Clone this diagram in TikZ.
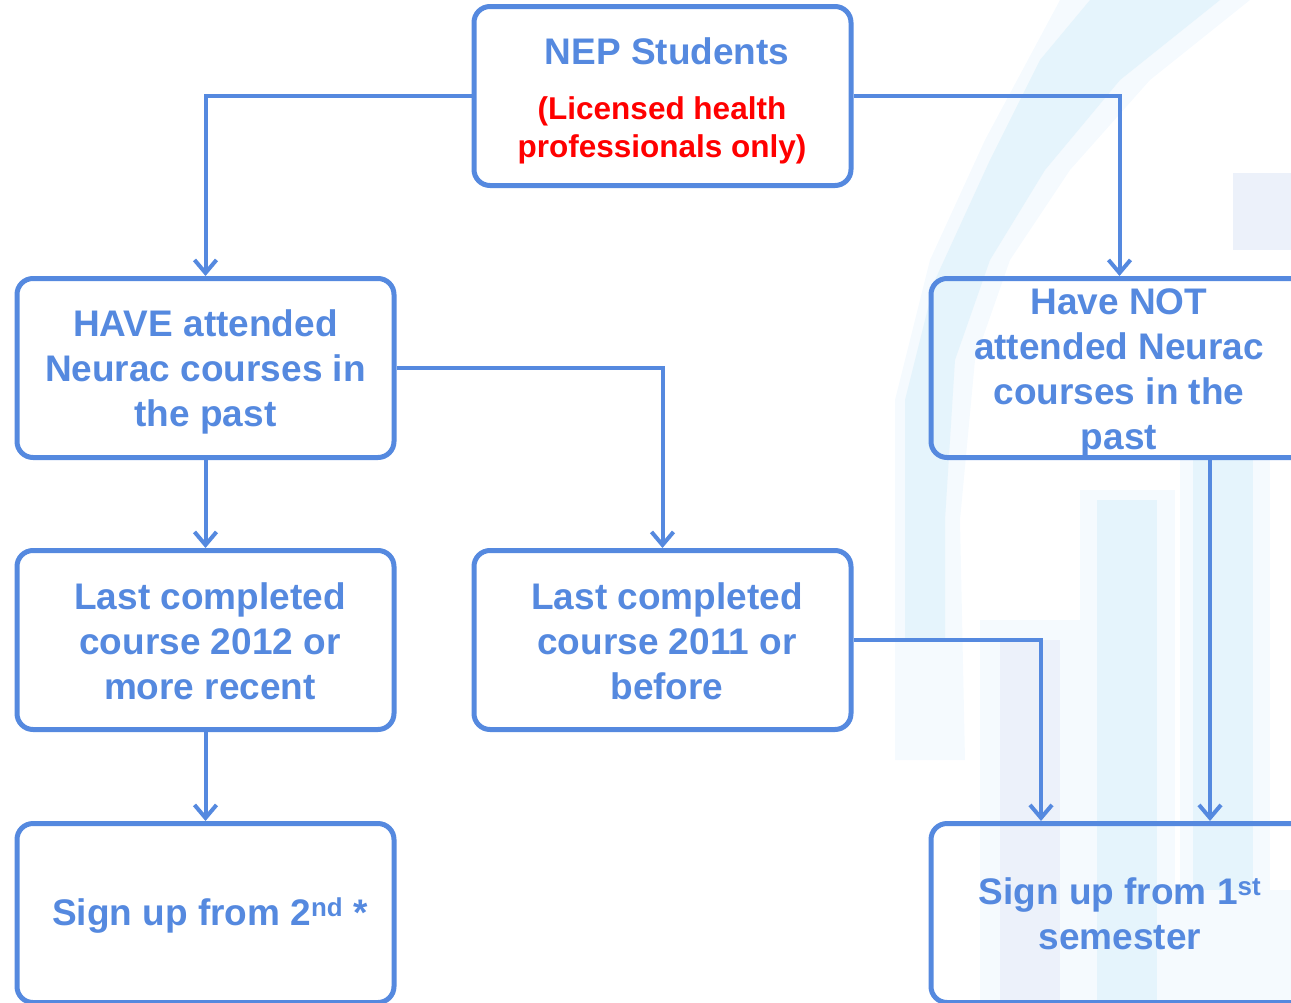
\documentclass[tikz,border=0pt]{standalone}
\usepackage{fontspec}
\setmainfont{Liberation Sans}
\usetikzlibrary{arrows.meta}
\definecolor{fc}{RGB}{85,137,223}
\definecolor{bgA}{RGB}{229,244,252}
\definecolor{bgB}{RGB}{236,241,250}
\definecolor{bgC}{RGB}{245,250,254}
\begin{document}
\begin{tikzpicture}[x=1pt,y=-1pt,
  box/.style={draw=fc, line width=5pt, rounded corners=16pt, minimum width=377pt, minimum height=179pt, inner sep=0pt},
  txt/.style={text=fc, align=center, font=\bfseries\fontsize{37}{45}\selectfont, inner sep=0pt},
  redtxt/.style={text=red, align=center, font=\bfseries\fontsize{31.5}{38}\selectfont, inner sep=0pt},
  conn/.style={draw=fc, line width=4pt, -{Straight Barb[length=13pt,width=22pt,line width=4pt]}}]
\useasboundingbox (0,0) rectangle (1291,1002);
\clip (0,0) rectangle (1291,1002);
% faint background pattern
\fill[bgC] (1060,0) -- (1250,0) -- (1150,80) -- (1070,170) -- (1010,260) -- (975,360) -- (960,520) -- (965,760) -- (895,760) -- (895,400) -- (930,260) -- (985,140) -- cycle;
\fill[bgA] (1090,0) -- (1220,0) -- (1120,80) -- (1045,170) -- (990,260) -- (955,360) -- (945,520) -- (945,640) -- (905,640) -- (905,400) -- (935,280) -- (990,160) -- (1040,60) -- cycle;
\fill[bgC] (1080,490) rectangle (1175,1002);
\fill[bgA] (1097,500) rectangle (1157,1002);
\fill[bgC] (1180,460) rectangle (1270,1002);
\fill[bgA] (1193,460) rectangle (1253,1002);
\fill[bgC] (980,620) rectangle (1080,1002);
\fill[bgB] (1000,640) rectangle (1060,1002);
\fill[bgB] (1233,173) rectangle (1291,250);
\fill[bgC] (1160,890) rectangle (1291,1002);
% boxes
\node[box] (top) at (662.5,96) {};
\node[txt] (topt) at (667,51) {NEP Students};
\node[redtxt] (topr) at (662,130) {(Licensed health\\professionals only)};
\node[box] (have) at (205.5,368) {};
\node[txt] (havet) at (205.5,372) {HAVE attended\\Neurac courses in\\the past};
\node[box] (not) at (1119.5,368) {};
\node[txt] (nott) at (1119,373) {Have NOT\\attended Neurac\\courses in the\\past};
\node[box] (recent) at (205.5,640) {};
\node[txt] (recentt) at (210,641) {Last completed\\course 2012 or\\more recent};
\node[box] (before) at (662.5,640) {};
\node[txt] (beforet) at (667,641) {Last completed\\course 2011 or\\before};
\node[box] (second) at (205.5,913) {};
\node[txt] (secondt) at (210,916) {Sign up from 2\textsuperscript{nd} *};
\node[box] (first) at (1119.5,913) {};
\node[txt] (firstt) at (1120,914) {Sign up from 1\textsuperscript{st}\\semester};
% connectors
\draw[conn] (top.west) -| (have.north);
\draw[conn] (top.east) -| (not.north);
\draw[conn] (have.east) -| (before.north);
\draw[conn] (have.south) -- (recent.north);
\draw[conn] (recent.south) -- (second.north);
\draw[conn] (before.east) -| ([xshift=-78.5pt]first.north);
\draw[conn] ([xshift=90.5pt]not.south) -- ([xshift=90.5pt]first.north);
\end{tikzpicture}
\end{document}
